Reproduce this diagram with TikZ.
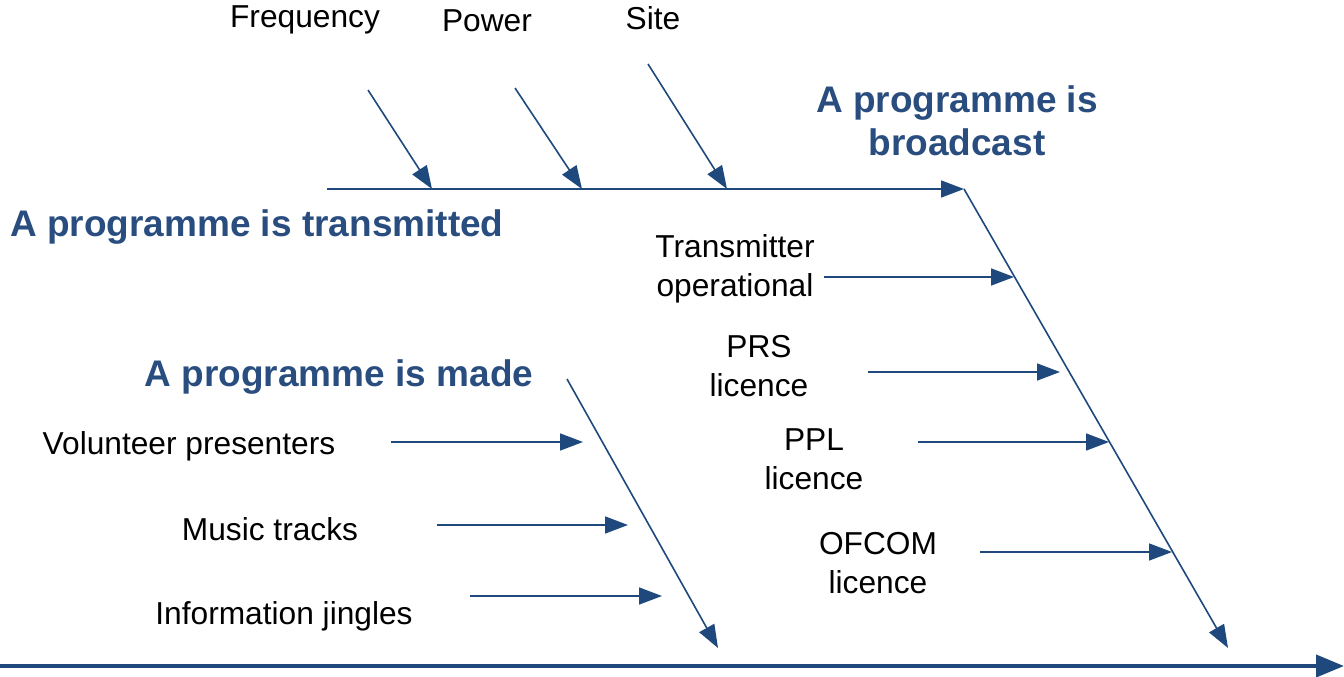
\documentclass[tikz,border=0pt]{standalone}
\usepackage{fontspec}
\setmainfont{Liberation Sans}
\usetikzlibrary{arrows.meta}
\definecolor{fishblue}{HTML}{1F497D}
\definecolor{headblue}{HTML}{294D7F}
\tikzset{
  lbl/.style={inner sep=0pt, align=center, text=black,
    font=\fontsize{31.7}{39}\selectfont},
  head/.style={inner sep=0pt, align=center, text=headblue,
    font=\fontsize{37}{43}\selectfont\bfseries},
  rib/.style={draw=fishblue, line width=1.6pt,
    -{Triangle[length=23pt,width=17pt]}},
  mainspine/.style={draw=fishblue, line width=4pt,
    -{Triangle[length=28pt,width=22pt]}},
}
\begin{document}
\begin{tikzpicture}[x=1pt,y=-1pt]
\useasboundingbox (0,0) rectangle (1344,677);

% headings
\node[head] (hbroad) at (957,121) {A programme is\\broadcast};
\node[head, anchor=west] (htrans) at (10,227) {A programme is transmitted};
\node[head] (hmade) at (339,377) {A programme is made};

% cause labels
\node[lbl] (freq) at (305,20) {Frequency};
\node[lbl] (power) at (487,21) {Power};
\node[lbl] (site) at (653,18) {Site};
\node[lbl] (txop) at (735,269) {Transmitter\\operational};
\node[lbl] (prs) at (759,366) {PRS\\licence};
\node[lbl] (ppl) at (814,459) {PPL\\licence};
\node[lbl] (ofcom) at (878,563) {OFCOM\\licence};
\node[lbl] (vol) at (189,446) {Volunteer presenters};
\node[lbl] (music) at (270,529) {Music tracks};
\node[lbl] (jingle) at (284,616) {Information jingles};

% bone geometry
\coordinate (tstart) at (327,189);
\coordinate (tend) at (964,189);
\coordinate (bend) at (1228,648);
\coordinate (mstart) at (567,379);
\coordinate (mend) at (718,648);
\coordinate (sstart) at (0,666);
\coordinate (send) at (1344,666);

\coordinate (f0) at (368,90);   \coordinate (f1) at (432,189);
\coordinate (p0) at (515,88);   \coordinate (p1) at (582,189);
\coordinate (s0) at (648,64);   \coordinate (s1) at (727,189);

\coordinate (t0) at (824,277);  \coordinate (t1) at (1014,277);
\coordinate (r0) at (868,372);  \coordinate (r1) at (1060,372);
\coordinate (l0) at (918,442);  \coordinate (l1) at (1109,442);
\coordinate (o0) at (980,552);  \coordinate (o1) at (1172,552);

\coordinate (v0) at (391,442);  \coordinate (v1) at (583,442);
\coordinate (m0) at (437,525);  \coordinate (m1) at (628,525);
\coordinate (j0) at (470,596);  \coordinate (j1) at (662,596);

% transmitted branch
\draw[rib] (tstart) -- (tend);
\draw[rib] (f0) -- (f1);
\draw[rib] (p0) -- (p1);
\draw[rib] (s0) -- (s1);

% broadcast branch
\draw[rib] (tend) -- (bend);
\draw[rib] (t0) -- (t1);
\draw[rib] (r0) -- (r1);
\draw[rib] (l0) -- (l1);
\draw[rib] (o0) -- (o1);

% made branch
\draw[rib] (mstart) -- (mend);
\draw[rib] (v0) -- (v1);
\draw[rib] (m0) -- (m1);
\draw[rib] (j0) -- (j1);

% main spine
\draw[mainspine] (sstart) -- (send);
\end{tikzpicture}
\end{document}
